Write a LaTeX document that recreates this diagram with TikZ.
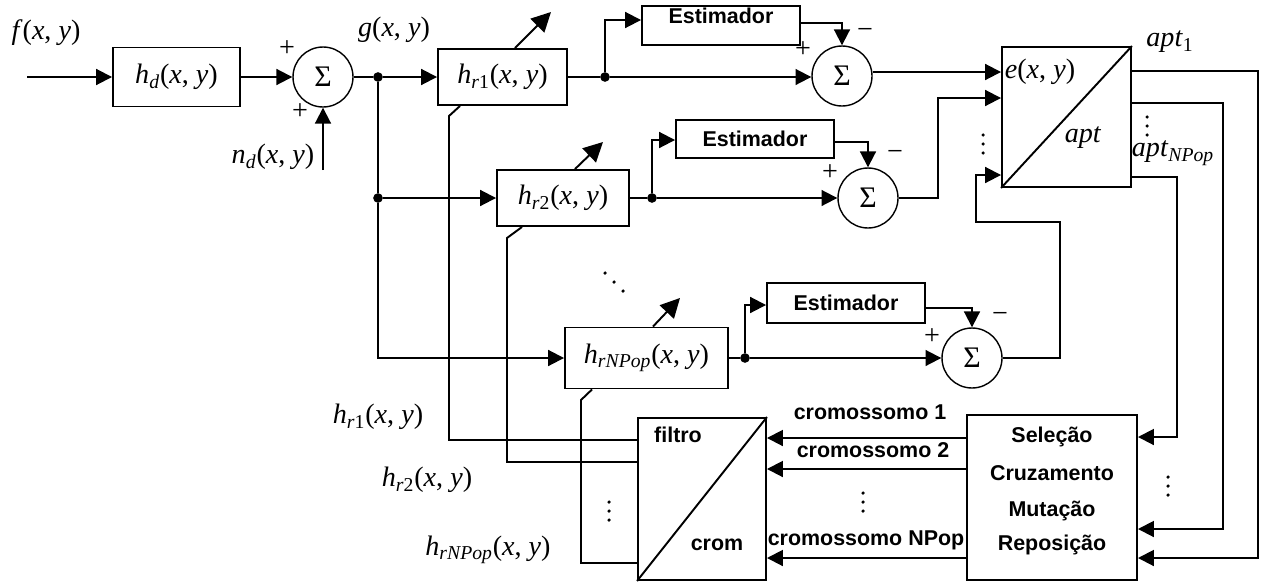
\documentclass[tikz,border=0pt]{standalone}
\usepackage{fontspec}
\setmainfont{Liberation Serif}
\newfontfamily\sfbold{Liberation Sans}[BoldFont=* Bold]
\usetikzlibrary{arrows.meta}
\newcommand\hlab[2]{\textit{#1}\textsubscript{#2}(\textit{x}, \textit{y})}
\tikzset{
  ln/.style={line width=1.1pt},
  arr/.style={ln,-{Triangle[length=9pt,width=9pt]}},
  bigarr/.style={ln,-{Triangle[length=11pt,width=11pt]}},
  blk/.style 2 args={draw, line width=1.1pt, rectangle, inner sep=0pt,
    minimum width=#1*0.02cm, minimum height=#2*0.02cm},
  sumn/.style={draw, line width=0.8pt, circle, inner sep=0pt, minimum size=1.2cm,
    font=\fontsize{17}{17}\selectfont},
  jdot/.style={circle, fill, inner sep=0pt, minimum size=5.5pt},
  sfb/.style={font=\sfbold\bfseries\fontsize{12.2}{14}\selectfont, inner sep=0pt},
  mlbl/.style={font=\fontsize{16}{18}\selectfont, inner sep=0pt},
  sgn/.style={font=\fontsize{16}{16}\selectfont, inner sep=0pt},
}
\newcommand\vdts[2]{\fill (#1,#2) circle (1pt) (#1,#2+9) circle (1pt) (#1,#2+18) circle (1pt);}
\begin{document}
\begin{tikzpicture}[x=0.02cm,y=-0.02cm]
\fill[white] (0,0) rectangle (1261,585);
\useasboundingbox (0,0) rectangle (1261,585);

% blocks
\node[blk={127}{59}, mlbl] (hd) at (176.5,77) {\hlab{h}{\textit{d}}};
\node[sumn] (s1) at (323,77) {Σ};
\node[blk={129}{56}, mlbl] (hr1) at (502.5,77) {\hlab{h}{\textit{r}1}};
\node[blk={158}{39}] (est1) at (721,25.5) {};
\node[sfb] at (721,16) {Estimador};
\node[sumn] (s2) at (842,76) {Σ};
\node[blk={129}{140}] (ebox) at (1066.5,117) {};
\node[blk={132}{56}, mlbl] (hr2) at (563,198) {\hlab{h}{\textit{r}2}};
\node[blk={158}{38}, sfb] (est2) at (755,139) {Estimador};
\node[sumn] (s3) at (868,198) {Σ};
\node[blk={163}{61}, mlbl] (hrN) at (646.5,358) {\hlab{h}{\textit{rNPop}}};
\node[blk={158}{40}, sfb] (est3) at (846,303) {Estimador};
\node[sumn] (s4) at (972,358) {Σ};
\node[blk={128}{162}] (filt) at (702,499) {};
\node[blk={170}{165}] (sel) at (1052,497.5) {};

% junction dots
\node[jdot] (d1) at (378,77) {};
\node[jdot] (d2) at (378,198) {};
\node[jdot] (d3) at (605,77) {};
\node[jdot] (d4) at (652,198) {};
\node[jdot] (d5) at (745,358) {};

% free ends
\coordinate (fin) at (27,77);
\coordinate (nin) at (323,170);
\coordinate (a1) at (551,12);
\coordinate (a2) at (603,142);
\coordinate (a3) at (680,298);

% main path
\draw[arr] (fin) -- (hd);
\draw[arr] (hd) -- (s1);
\draw[arr] (nin) -- (s1.south);
\draw[ln] (s1) -- (d1);
\draw[arr] (d1) -- (hr1);
\draw[ln] (d1) -- (d2);
\draw[arr] (d2) -- (hr2);
\draw[arr] (d2) |- (hrN);

% branch 1
\draw[ln] (hr1) -- (d3);
\draw[arr] (d3) -- (s2.west |- 0,77);
\draw[arr] (d3) |- (est1.west |- 0,20);
\draw[arr] (est1.east |- 0,23) -| (s2.north);
\draw[arr] (s2.east |- 0,72) -- (ebox.west |- 0,72);

% branch 2
\draw[ln] (hr2) -- (d4);
\draw[arr] (d4) -- (s3);
\draw[arr] (d4) |- (est2.west |- 0,140);
\draw[arr] (est2.east |- 0,142) -| (s3.north);
\draw[arr] (s3.east) -- (938,198) |- (ebox.west |- 0,98);

% branch N
\draw[ln] (hrN) -- (d5);
\draw[arr] (d5) -- (s4);
\draw[arr] (d5) |- (est3.west |- 0,305);
\draw[arr] (est3.east |- 0,308) -| (s4.north);
\draw[arr] (s4.east) -| (1060,222) -| (976,175) -- (ebox.west |- 0,175);

% e box
\draw[ln] (ebox.south west) -- (ebox.north east);
\node[mlbl] at (1040,72) {\textit{e}(\textit{x}, \textit{y})};
\node[mlbl] at (1083,138) {\textit{apt}};
\node[mlbl] at (1170,42) {\textit{apt}\textsubscript{1}};
\node[mlbl] at (1173,153) {\textit{apt}\textsubscript{\textit{NPop}}};

% fitness to selection
\draw[arr] (ebox.east |- 0,71) -- (1258,71) |- (sel.east |- 0,558);
\draw[arr] (ebox.east |- 0,103) -- (1223,103) |- (sel.east |- 0,529);
\draw[arr] (ebox.east |- 0,177) -- (1177,177) |- (sel.east |- 0,437);

% selection to filtro
\draw[arr] (sel.west |- 0,438) -- (filt.east |- 0,438);
\draw[arr] (sel.west |- 0,469) -- (filt.east |- 0,469);
\draw[arr] (sel.west |- 0,558) -- (filt.east |- 0,558);

% filtro box
\draw[ln] (filt.south west) -- (filt.north east);
\node[sfb] at (678,435) {filtro};
\node[sfb] at (717,545) {crom};

% filtro back to filters
\draw[ln] (filt.west |- 0,440) -| (449,116) -- (hr1.south -| 460,0);
\draw[ln] (filt.west |- 0,462) -| (507,238) -- (hr2.south -| 522,0);
\draw[ln] (filt.west |- 0,563) -| (581,400) -- (hrN.south -| 592,0);

% adjust arrows
\draw[bigarr] (hr1.north -| 515,0) -- (a1);
\draw[bigarr] (hr2.north -| 575,0) -- (a2);
\draw[bigarr] (hrN.north -| 653,0) -- (a3);

% selection text
\node[sfb] at (1052,437) {Seleção};
\node[sfb] at (1052,473) {Cruzamento};
\node[sfb] at (1052,511) {Mutação};
\node[sfb] at (1052,545) {Reposição};
\node[sfb] at (870,412) {cromossomo 1};
\node[sfb] at (873,450) {cromossomo 2};
\node[sfb] at (866,540) {cromossomo NPop};

% labels
\node[mlbl] at (46,33) {\textit{f}(\textit{x}, \textit{y})};
\node[mlbl] at (394,30) {\textit{g}(\textit{x}, \textit{y})};
\node[mlbl] at (273,157) {\hlab{n}{\textit{d}}};
\node[mlbl] at (378,417) {\hlab{h}{\textit{r}1}};
\node[mlbl] at (427,480) {\hlab{h}{\textit{r}2}};
\node[mlbl] at (488,550) {\hlab{h}{\textit{rNPop}}};

% signs
\node[sgn] at (287,49) {+};
\node[sgn] at (300,112) {+};
\node[sgn] at (803,50) {+};
\node[sgn] at (865,33) {−};
\node[sgn] at (830,173) {+};
\node[sgn] at (895,155) {−};
\node[sgn] at (932,337) {+};
\node[sgn] at (1000,317) {−};

% ellipsis dots
\vdts{983}{135}
\vdts{1147}{117}
\vdts{1168}{477}
\vdts{863}{493}
\vdts{609}{502}
\fill (605,273) circle (1pt) (614,282) circle (1pt) (623,291) circle (1pt);
\end{tikzpicture}
\end{document}
